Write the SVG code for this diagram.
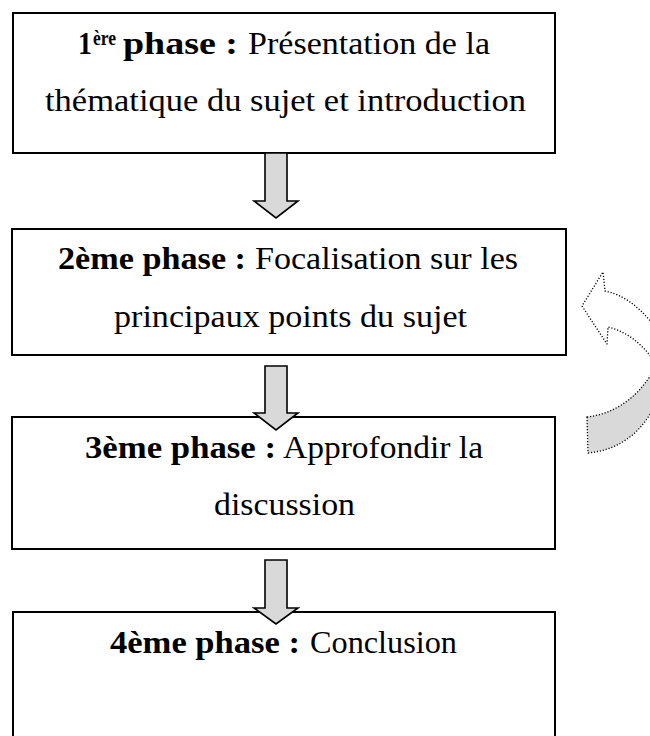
<svg xmlns="http://www.w3.org/2000/svg" width="650" height="736" viewBox="0 0 650 736">
<defs>
<style>
.box{fill:#fff;stroke:#000;stroke-width:2}
.t{font-family:"Liberation Serif","DejaVu Serif",serif;font-size:32px;fill:#000}
.b{font-weight:bold}
.arr{fill:#d9d9d9;stroke:#000;stroke-width:1.6;stroke-linejoin:miter}
.dot{stroke:#000;stroke-width:1.3;stroke-dasharray:1.2 1.8;stroke-linejoin:round}
</style>
</defs>
<rect width="650" height="736" fill="#fff"/>
<g id="node1">
<rect class="box" x="13" y="13" width="542" height="140"/>
<text class="t b" x="78" y="54" textLength="14" lengthAdjust="spacingAndGlyphs">1</text>
<text class="t b" x="93" y="45" style="font-size:21px" textLength="23" lengthAdjust="spacingAndGlyphs">ère</text>
<text class="t b" x="123" y="54" textLength="115" lengthAdjust="spacingAndGlyphs">phase :</text>
<text class="t" x="248" y="54" textLength="242" lengthAdjust="spacingAndGlyphs">Présentation de la</text>
<text class="t" x="45" y="111" textLength="481" lengthAdjust="spacingAndGlyphs">thématique du sujet et introduction</text>
</g>
<g id="node2">
<rect class="box" x="12" y="229" width="554" height="126"/>
<text class="t b" x="58" y="269" textLength="188" lengthAdjust="spacingAndGlyphs">2ème phase :</text>
<text class="t" x="255" y="269" textLength="263" lengthAdjust="spacingAndGlyphs">Focalisation sur les</text>
<text class="t" x="114" y="327" textLength="353" lengthAdjust="spacingAndGlyphs">principaux points du sujet</text>
</g>
<g id="node3">
<rect class="box" x="12" y="417" width="543" height="132"/>
<text class="t b" x="85" y="458" textLength="191" lengthAdjust="spacingAndGlyphs">3ème phase :</text>
<text class="t" x="283" y="458" textLength="200" lengthAdjust="spacingAndGlyphs">Approfondir la</text>
<text class="t" x="214" y="515" textLength="141" lengthAdjust="spacingAndGlyphs">discussion</text>
</g>
<g id="node4">
<rect class="box" x="13" y="612" width="542" height="140"/>
<text class="t b" x="110" y="653" textLength="190" lengthAdjust="spacingAndGlyphs">4ème phase :</text>
<text class="t" x="310" y="653" textLength="147" lengthAdjust="spacingAndGlyphs">Conclusion</text>
</g>
<g id="connectors">
<polygon class="arr" points="265,153 287,153 287,201 298,201 276,218 254,201 265,201"/>
<polygon class="arr" points="265,366 287,366 287,413 298,413 276,430 254,413 265,413"/>
<polygon class="arr" points="265,560 287,560 287,608 298,608 276,624 254,608 265,608"/>
<g id="cycle">
<path class="dot" fill="#d9d9d9" d="M 587 417 Q 628 412 652 373 L 652 411 Q 630 449 588 453 Z"/>
<path class="dot" fill="#fff" d="M 652 323 Q 630 296 605 291 L 603 272 L 582 306 L 607 344 L 608 327 Q 633 333 652 358"/>
</g>
</g>
</svg>
